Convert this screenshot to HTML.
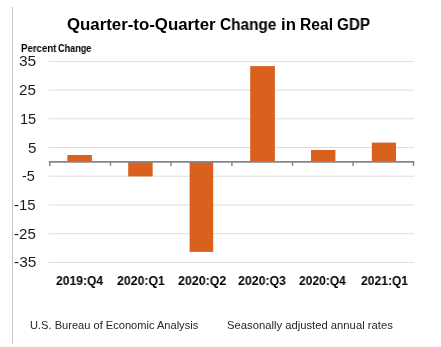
<!DOCTYPE html>
<html><head><meta charset="utf-8">
<style>
html,body{margin:0;padding:0;background:#fff;width:441px;height:347px;overflow:hidden;position:relative}
body{font-family:"Liberation Sans",sans-serif;color:#000}
.a{will-change:transform;position:absolute;white-space:nowrap;line-height:1;transform-origin:0 0}
svg{position:absolute;left:0;top:0}
</style></head><body>
<svg width="441" height="347" viewBox="0 0 441 347">
<line x1="12.5" y1="7" x2="12.5" y2="344" stroke="#c6c6c6" stroke-width="1"/><line x1="48.8" y1="61.4" x2="414.2" y2="61.4" stroke="#dedede" stroke-width="1"/><line x1="48.8" y1="90.1" x2="414.2" y2="90.1" stroke="#dedede" stroke-width="1"/><line x1="48.8" y1="118.8" x2="414.2" y2="118.8" stroke="#dedede" stroke-width="1"/><line x1="48.8" y1="147.5" x2="414.2" y2="147.5" stroke="#dedede" stroke-width="1"/><line x1="48.8" y1="176.2" x2="414.2" y2="176.2" stroke="#dedede" stroke-width="1"/><line x1="48.8" y1="204.95" x2="414.2" y2="204.95" stroke="#dedede" stroke-width="1"/><line x1="48.8" y1="233.7" x2="414.2" y2="233.7" stroke="#dedede" stroke-width="1"/><line x1="48.8" y1="262.4" x2="414.2" y2="262.4" stroke="#dedede" stroke-width="1"/><rect x="67.3" y="155.0" width="24.6" height="6.9" fill="#d9611d"/><rect x="128.2" y="161.9" width="24.45" height="14.5" fill="#d9611d"/><rect x="189.6" y="161.9" width="23.6" height="90.0" fill="#d9611d"/><rect x="250.2" y="66.1" width="24.7" height="95.8" fill="#d9611d"/><rect x="311.0" y="150.0" width="24.4" height="11.9" fill="#d9611d"/><rect x="371.8" y="142.6" width="24.2" height="19.3" fill="#d9611d"/><line x1="48.9" y1="161.9" x2="414.3" y2="161.9" stroke="#868686" stroke-width="1.8"/><line x1="49.8" y1="161.9" x2="49.8" y2="165.9" stroke="#868686" stroke-width="1.5"/><line x1="110.5" y1="161.9" x2="110.5" y2="165.9" stroke="#868686" stroke-width="1.5"/><line x1="171.0" y1="161.9" x2="171.0" y2="165.9" stroke="#868686" stroke-width="1.5"/><line x1="231.9" y1="161.9" x2="231.9" y2="165.9" stroke="#868686" stroke-width="1.5"/><line x1="292.6" y1="161.9" x2="292.6" y2="165.9" stroke="#868686" stroke-width="1.5"/><line x1="353.1" y1="161.9" x2="353.1" y2="165.9" stroke="#868686" stroke-width="1.5"/><line x1="413.5" y1="161.9" x2="413.5" y2="165.9" stroke="#868686" stroke-width="1.5"/>
</svg>
<div class="a" style="left:67.42px;top:17px;font-size:15.6px;font-weight:bold;color:#000;transform:scaleX(1.0788)">Quarter-to-Quarter</div><div class="a" style="left:219.71px;top:17px;font-size:15.6px;font-weight:bold;color:#000;transform:scaleX(0.9857)">Change</div><div class="a" style="left:280.53px;top:17px;font-size:15.6px;font-weight:bold;color:#000;transform:scaleX(1.075)">in</div><div class="a" style="left:300.3px;top:17px;font-size:15.6px;font-weight:bold;color:#000;transform:scaleX(1.0032)">Real</div><div class="a" style="left:336.52px;top:17px;font-size:15.6px;font-weight:bold;color:#000;transform:scaleX(0.975)">GDP</div><div class="a" style="left:20.54px;top:44px;font-size:10.0px;font-weight:bold;color:#000;transform:scaleX(0.9639)">Percent</div><div class="a" style="left:58.2px;top:44px;font-size:10.0px;font-weight:bold;color:#000;transform:scaleX(0.9111)">Change</div><div class="a" style="left:18.71px;top:54px;font-size:14.2px;font-weight:normal;color:#1c1c1c;transform:scaleX(1.0929)">35</div><div class="a" style="left:18.93px;top:83px;font-size:14.2px;font-weight:normal;color:#1c1c1c;transform:scaleX(1.0714)">25</div><div class="a" style="left:19.57px;top:112px;font-size:14.2px;font-weight:normal;color:#1c1c1c;transform:scaleX(1.0286)">15</div><div class="a" style="left:27.53px;top:141px;font-size:14.2px;font-weight:normal;color:#1c1c1c;transform:scaleX(1.0667)">5</div><div class="a" style="left:21.98px;top:169px;font-size:14.2px;font-weight:normal;color:#1c1c1c;transform:scaleX(1.0182)">-5</div><div class="a" style="left:14.05px;top:198px;font-size:14.2px;font-weight:normal;color:#1c1c1c;transform:scaleX(1.0526)">-15</div><div class="a" style="left:14.04px;top:227px;font-size:14.2px;font-weight:normal;color:#1c1c1c;transform:scaleX(1.0632)">-25</div><div class="a" style="left:14.01px;top:255px;font-size:14.2px;font-weight:normal;color:#1c1c1c;transform:scaleX(1.0895)">-35</div><div class="a" style="left:56.2px;top:274px;font-size:13.0px;font-weight:bold;color:#000;transform:scaleX(0.9314)">2019:Q4</div><div class="a" style="left:117.1px;top:274px;font-size:13.0px;font-weight:bold;color:#000;transform:scaleX(0.946)">2020:Q1</div><div class="a" style="left:177.8px;top:274px;font-size:13.0px;font-weight:bold;color:#000;transform:scaleX(0.954)">2020:Q2</div><div class="a" style="left:238.4px;top:274px;font-size:13.0px;font-weight:bold;color:#000;transform:scaleX(0.948)">2020:Q3</div><div class="a" style="left:299.3px;top:274px;font-size:13.0px;font-weight:bold;color:#000;transform:scaleX(0.9255)">2020:Q4</div><div class="a" style="left:360.6px;top:274px;font-size:13.0px;font-weight:bold;color:#000;transform:scaleX(0.93)">2021:Q1</div><div class="a" style="left:29.59px;top:320px;font-size:11.0px;font-weight:normal;color:#262626;transform:scaleX(1.0078)">U.S. Bureau of Economic Analysis</div><div class="a" style="left:226.98px;top:320px;font-size:11.0px;font-weight:normal;color:#262626;transform:scaleX(1.023)">Seasonally adjusted annual rates</div>
</body></html>
